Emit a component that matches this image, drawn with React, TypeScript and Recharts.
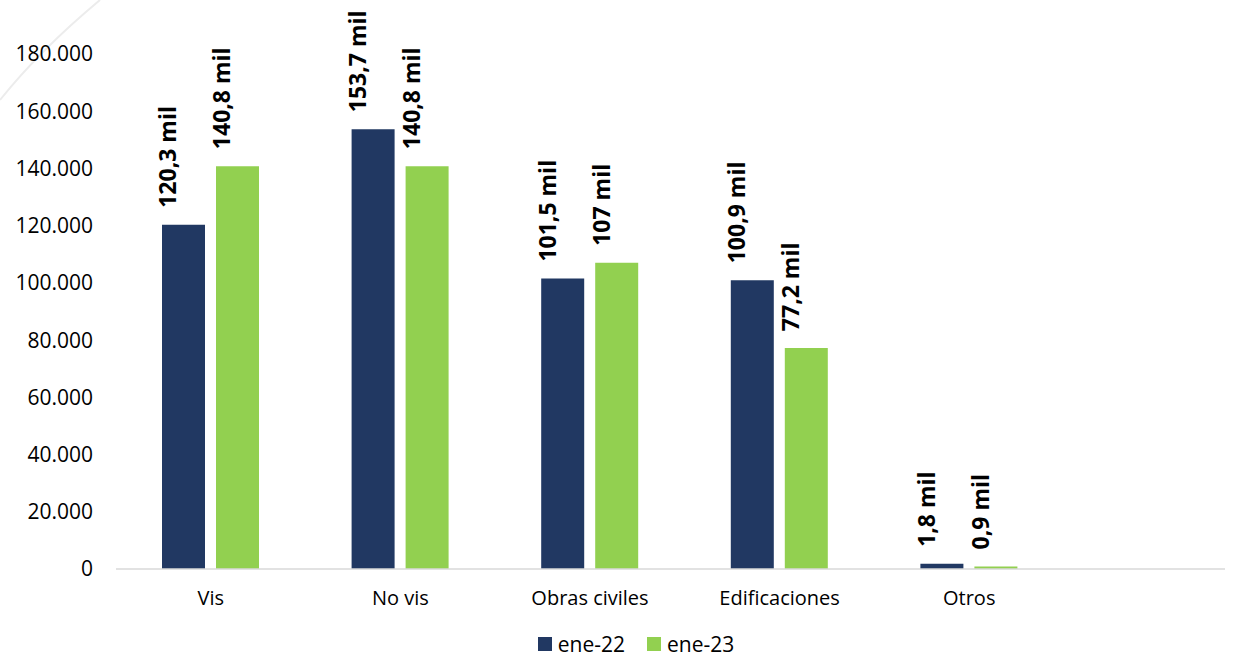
import React from 'react';
import {
  BarChart,
  Bar,
  XAxis,
  YAxis,
  Legend,
  LabelList,
} from 'recharts';

const categories = ['Vis', 'No vis', 'Obras civiles', 'Edificaciones', 'Otros'];
const ene22 = [120300, 153700, 101500, 100900, 1800];
const ene23 = [140800, 140800, 107000, 77200, 900];
const yTicks = [0, 20000, 40000, 60000, 80000, 100000, 120000, 140000, 160000, 180000];

const DARK = '#213862';
const GREEN = '#92d050';
const FONT = '"Open Sans", Calibri, sans-serif';

const data = categories.map((name, i) => ({ name, ene22: ene22[i], ene23: ene23[i] }));

const formatThousands = (v: number): string =>
  v.toLocaleString('de-DE', { maximumFractionDigits: 0 });

const formatMil = (v: number): string => {
  const s = (v / 1000).toFixed(1).replace('.', ',');
  return (s.endsWith(',0') ? s.slice(0, -2) : s) + ' mil';
};

const RotatedLabel = (props: any) => {
  const { x, y, width, value } = props;
  const cx = Number(x) + Number(width) / 2 - 7;
  const cy = Number(y) - 17;
  return (
    <text
      x={cx}
      y={cy}
      transform={`rotate(-90, ${cx}, ${cy})`}
      textAnchor="start"
      fontFamily={FONT}
      fontWeight="bold"
      fontSize={23}
      fill="#000"
    >
      {formatMil(Number(value))}
    </text>
  );
};

const LegendContent = () => (
  <div
    style={{
      display: 'flex',
      justifyContent: 'center',
      gap: 22,
      fontFamily: FONT,
      fontSize: 21,
      color: '#000',
      paddingLeft: 34,
      lineHeight: '18px',
      height: 18,
    }}
  >
    {[
      { label: 'ene-22', color: DARK },
      { label: 'ene-23', color: GREEN },
    ].map((item) => (
      <span key={item.label} style={{ display: 'flex', alignItems: 'center', gap: 6 }}>
        <span style={{ width: 14, height: 14, background: item.color, display: 'inline-block' }} />
        {item.label}
      </span>
    ))}
  </div>
);

export default function App() {
  return (
    <div style={{ position: 'absolute', left: 0, top: 0, width: 1238, height: 654, background: '#fff', overflow: 'hidden' }}>
      <svg width={110} height={110} style={{ position: 'absolute', left: 0, top: 0 }}>
        <path d="M0,100 Q40,50 100,0" stroke="#ececec" strokeWidth={2} fill="none" />
      </svg>
      <BarChart
        width={1238}
        height={654}
        data={data}
        margin={{ top: 54, right: 13, bottom: 22, left: 0 }}
        barGap={11}
        barSize={43}
        style={{ position: 'absolute', left: 0, top: 0 }}
      >
        <XAxis
          dataKey="name"
          axisLine={{ stroke: '#d9d9d9', strokeWidth: 1.5 }}
          tickLine={false}
          tickSize={0}
          tickMargin={22}
          height={45}
          padding={{ left: 0, right: 161 }}
          tick={{ fill: '#000', fontSize: 20, fontFamily: FONT }}
          interval={0}
        />
        <YAxis
          domain={[0, 180000]}
          ticks={yTicks}
          width={116}
          axisLine={false}
          tickLine={false}
          tickSize={0}
          tickMargin={23}
          tickFormatter={formatThousands}
          tick={{ fill: '#000', fontSize: 21, fontFamily: FONT }}
        />
        <Legend
          verticalAlign="bottom"
          content={<LegendContent />}
          wrapperStyle={{ top: 635, bottom: 'auto', left: 0, width: 1238 }}
        />
        <Bar dataKey="ene22" name="ene-22" fill={DARK} isAnimationActive={false}>
          <LabelList dataKey="ene22" content={<RotatedLabel />} />
        </Bar>
        <Bar dataKey="ene23" name="ene-23" fill={GREEN} isAnimationActive={false}>
          <LabelList dataKey="ene23" content={<RotatedLabel />} />
        </Bar>
      </BarChart>
    </div>
  );
}
